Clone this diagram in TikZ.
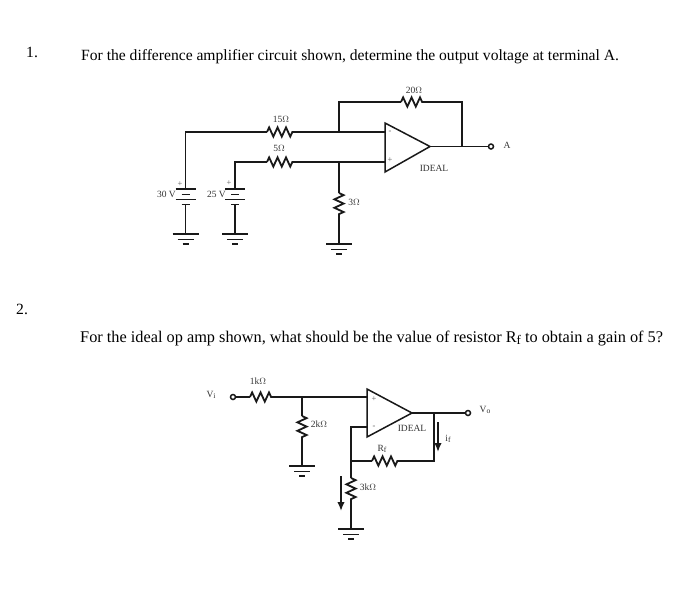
\documentclass[tikz,border=0pt]{standalone}
\usepackage{fontspec}
\setmainfont{Liberation Serif}
\usetikzlibrary{decorations.pathmorphing,arrows.meta}
\newlength{\du}
\setlength{\du}{1pt}
\tikzset{
  qtext/.style={inner sep=0pt,anchor=west,font=\fontsize{15.6}{17}\selectfont},
  qtextb/.style={inner sep=0pt,anchor=west,font=\fontsize{16.3}{18}\selectfont},
  lbl/.style={inner sep=0pt,text=black!80,font=\fontsize{9.5}{11}\selectfont},
  sign/.style={inner sep=0pt,text=black!65,font=\fontsize{8.5}{9}\selectfont},
  wire/.style={line width=1.5\du},
  reswire/.style={line width=1.8\du,line join=miter,decorate,decoration={zigzag,segment length=8.45\du,amplitude=4.6\du}},
  terminal/.style={circle,draw,fill=white,line width=1.5\du,inner sep=0pt,minimum size=5\du},
  currarrow/.style={line width=1.7\du,-{Latex[length=9pt,width=7.5pt]}}
}
\newcommand{\lowsub}[1]{\raisebox{-0.3ex}{\scalebox{0.8}{#1}}}
% ground below a named coordinate
\newcommand{\gndsym}[1]{
\draw[wire] ([xshift=-13\du]#1)--([xshift=13\du]#1);
\draw[wire] ([xshift=-8\du,yshift=5.5\du]#1)--([xshift=8\du,yshift=5.5\du]#1);
\draw[wire] ([xshift=-3\du,yshift=10\du]#1)--([xshift=3\du,yshift=10\du]#1);
}
% two cell battery, top plate at a named coordinate
\newcommand{\battsym}[1]{
\draw[wire] ([xshift=-10\du]#1)--([xshift=10\du]#1);
\draw[wire] ([xshift=-4\du,yshift=5.5\du]#1)--([xshift=4\du,yshift=5.5\du]#1);
\draw[wire] ([xshift=-10\du,yshift=10.5\du]#1)--([xshift=10\du,yshift=10.5\du]#1);
\draw[wire] ([xshift=-4\du,yshift=15.5\du]#1)--([xshift=4\du,yshift=15.5\du]#1);
}
\begin{document}
\begin{tikzpicture}
\useasboundingbox (0\du,0\du) rectangle (700\du,-611\du);
\pgftransformxscale{1.000000}
\pgftransformyscale{-1.000000}
\definecolor{dialinecolor}{rgb}{0.100000, 0.100000, 0.100000}
\pgfsetstrokecolor{dialinecolor}
% questions
\node[qtext] (numone) at (26\du,52\du) {1.};
\node[qtext] (textone) at (81\du,56.5\du) {For the difference amplifier circuit shown, determine the output voltage at terminal A.};
\node[qtext] (numtwo) at (16\du,309\du) {2.};
\node[qtextb] (texttwo) at (80\du,338.5\du) {For the ideal op amp shown, what should be the value of resistor R\lowsub{f} to obtain a gain of 5?};
% first circuit
\coordinate (battAtop) at (185.7\du,189\du);
\coordinate (battAbot) at (185.7\du,204.5\du);
\coordinate (battAcor) at (185.7\du,132\du);
\coordinate (gndA) at (185.7\du,234\du);
\coordinate (battBtop) at (235\du,189\du);
\coordinate (battBbot) at (235\du,204.5\du);
\coordinate (battBcor) at (235\du,162\du);
\coordinate (gndB) at (235\du,234\du);
\coordinate (rAl) at (267\du,132\du);
\coordinate (rAr) at (293\du,132\du);
\coordinate (rBl) at (267\du,162\du);
\coordinate (rBr) at (293\du,162\du);
\coordinate (jA) at (339\du,132\du);
\coordinate (jB) at (339\du,162\du);
\coordinate (fbcorA) at (339\du,102\du);
\coordinate (rFl) at (401\du,102\du);
\coordinate (rFr) at (426\du,102\du);
\coordinate (fbcorB) at (462\du,102\du);
\coordinate (jOut) at (462\du,146.5\du);
\coordinate (rCt) at (339\du,193\du);
\coordinate (rCb) at (339\du,217\du);
\coordinate (gndC) at (339\du,244\du);
\coordinate (ampAtop) at (385\du,123\du);
\coordinate (ampAbot) at (385\du,172\du);
\coordinate (ampAtip) at (430\du,146.5\du);
\coordinate (ampAminus) at (385\du,132\du);
\coordinate (ampAplus) at (385\du,162\du);
\node[terminal] (termA) at (491\du,146.5\du) {};
\battsym{battAtop}
\battsym{battBtop}
\gndsym{gndA}
\gndsym{gndB}
\gndsym{gndC}
\draw[wire] (battAtop)--(battAcor)--(rAl);
\draw[wire] (battAbot)--(gndA);
\draw[wire] (battBtop)--(battBcor)--(rBl);
\draw[wire] (battBbot)--(gndB);
\draw[reswire] (rAl)--(rAr);
\draw[reswire] (rBl)--(rBr);
\draw[reswire] (rFl)--(rFr);
\draw[reswire] (rCt)--(rCb);
\draw[wire] (rAr)--(ampAminus);
\draw[wire] (rBr)--(ampAplus);
\draw[wire] (jA)--(fbcorA)--(rFl);
\draw[wire] (rFr)--(fbcorB)--(jOut);
\draw[wire] (jB)--(rCt);
\draw[wire] (rCb)--(gndC);
\draw[wire,line join=miter] (ampAtop)--(ampAtip)--(ampAbot)--cycle;
\draw[wire] (ampAtip)--(termA);
\node[lbl] (lblrA) at (281\du,119\du) {15$\Omega$};
\node[lbl] (lblrB) at (279\du,148\du) {5$\Omega$};
\node[lbl] (lblrC) at (354\du,202\du) {3$\Omega$};
\node[lbl] (lblrF) at (414\du,90\du) {20$\Omega$};
\node[lbl,anchor=east] (lblbattA) at (176\du,194\du) {30 V};
\node[lbl,anchor=east] (lblbattB) at (226\du,194\du) {25 V};
\node[sign] (plusA) at (180\du,184\du) {+};
\node[sign] (plusB) at (229\du,183\du) {+};
\node[sign] (minusamp) at (390\du,132\du) {-};
\node[sign] (plusamp) at (390\du,160.5\du) {+};
\node[lbl] (ideala) at (434\du,168\du) {IDEAL};
\node[lbl] (lblA) at (507\du,145\du) {A};
% second circuit
\node[terminal] (termVi) at (233\du,397\du) {};
\coordinate (rGl) at (250\du,397\du);
\coordinate (rGr) at (275\du,397\du);
\coordinate (jIn) at (302\du,397\du);
\coordinate (rHt) at (302\du,416\du);
\coordinate (rHb) at (302\du,439\du);
\coordinate (gndH) at (302\du,466\du);
\coordinate (ampBtop) at (367\du,389\du);
\coordinate (ampBbot) at (367\du,437\du);
\coordinate (ampBtip) at (412\du,413\du);
\coordinate (ampBplus) at (367\du,397\du);
\coordinate (ampBminus) at (367\du,427\du);
\coordinate (invcor) at (351\du,427\du);
\coordinate (jFb) at (351\du,461\du);
\coordinate (rJl) at (372\du,461\du);
\coordinate (rJr) at (398\du,461\du);
\coordinate (fbcorC) at (434\du,461\du);
\coordinate (jVo) at (434\du,413\du);
\coordinate (rKt) at (351\du,478\du);
\coordinate (rKb) at (351\du,502\du);
\coordinate (gndK) at (351\du,529\du);
\coordinate (arrifs) at (438\du,422\du);
\coordinate (arrife) at (438\du,452\du);
\coordinate (arrks) at (341\du,476\du);
\coordinate (arrke) at (341\du,511\du);
\node[terminal] (termVo) at (468\du,413\du) {};
\gndsym{gndH}
\gndsym{gndK}
\draw[wire] (termVi)--(rGl);
\draw[reswire] (rGl)--(rGr);
\draw[reswire] (rHt)--(rHb);
\draw[reswire] (rJl)--(rJr);
\draw[reswire] (rKt)--(rKb);
\draw[wire] (rGr)--(ampBplus);
\draw[wire] (jIn)--(rHt);
\draw[wire] (rHb)--(gndH);
\draw[wire] (ampBminus)--(invcor)--(rKt);
\draw[wire] (rKb)--(gndK);
\draw[wire] (jFb)--(rJl);
\draw[wire] (rJr)--(fbcorC)--(jVo);
\draw[wire,line join=miter] (ampBtop)--(ampBtip)--(ampBbot)--cycle;
\draw[wire] (ampBtip)--(termVo);
\draw[currarrow] (arrifs)--(arrife);
\draw[currarrow] (arrks)--(arrke);
\node[lbl] (lblVi) at (211\du,395\du) {V\lowsub{i}};
\node[lbl] (lblrG) at (258\du,381\du) {1k$\Omega$};
\node[lbl] (lblrH) at (319\du,424\du) {2k$\Omega$};
\node[lbl] (lblrJ) at (382\du,449\du) {R\lowsub{f}};
\node[lbl] (lblrK) at (368\du,487\du) {3k$\Omega$};
\node[lbl] (idealb) at (412\du,428\du) {IDEAL};
\node[lbl] (lblif) at (448\du,439\du) {i\lowsub{f}};
\node[lbl] (lblVo) at (485\du,410\du) {V\lowsub{o}};
\node[sign] (plusampb) at (374\du,399\du) {+};
\node[sign] (minusampb) at (374\du,427\du) {-};
\end{tikzpicture}
\end{document}
